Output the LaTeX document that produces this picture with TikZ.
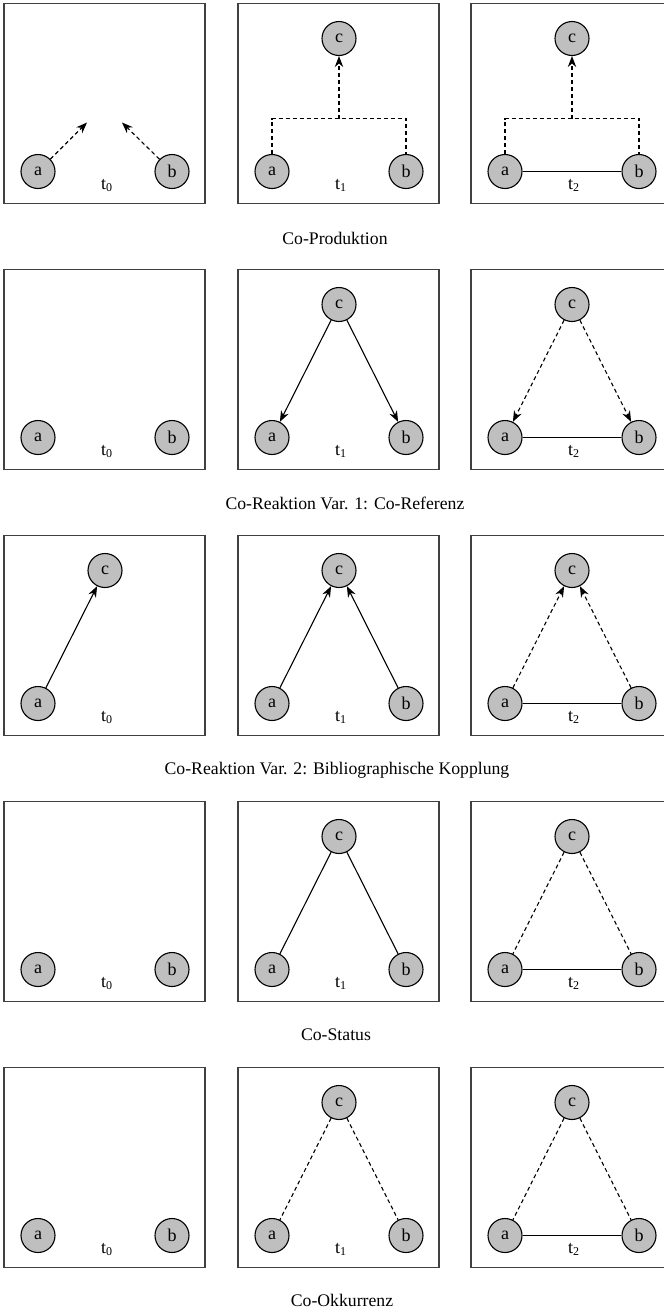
\documentclass[tikz,border=0pt]{standalone}
\usepackage{fontspec}
\setmainfont{Liberation Serif}
\usetikzlibrary{arrows.meta}

\begin{document}
\begin{tikzpicture}[x=0.5pt,y=-0.5pt,
    agent node/.style={circle,fill=black!25,draw,line width=0.55pt,minimum size=17pt,inner sep=0pt,font=\fontsize{9}{10}\selectfont},
    frame/.style={draw=black!75,line width=0.75pt},
    time label/.style={font=\fontsize{9}{10}\selectfont},
    caption/.style={font=\fontsize{8.85}{10}\selectfont},
    tie/.style={line width=0.55pt},
    hint/.style={line width=0.55pt,dash pattern=on 2pt off 1.5pt},
    arrowed/.style={-{Stealth[length=5.5pt,width=4.2pt]}}]
    \useasboundingbox (0,0) rectangle (664,1312);

    % Co-Produktion
    \begin{scope}[shift={(4,3.5)}]
        \draw[frame] (0,0) rectangle (201,200);
        \node[agent node] (a11) at (34,168) {a};
        \node[agent node] (b11) at (168,168) {b};
        \node[time label] (t11) at (103,182) {t\textsubscript{0}};
        \coordinate (p11) at (83,119);
        \coordinate (q11) at (118,119);
        \draw[hint,arrowed] (a11) -- (p11);
        \draw[hint,arrowed] (b11) -- (q11);
    \end{scope}
    \begin{scope}[shift={(238,3.5)}]
        \draw[frame] (0,0) rectangle (201,200);
        \node[agent node] (a12) at (34,168) {a};
        \node[agent node] (b12) at (168,168) {b};
        \node[agent node] (c12) at (101,35) {c};
        \node[time label] (t12) at (103,182) {t\textsubscript{1}};
        \coordinate (k12) at (101,115);
        \draw[hint] (a12.north) |- (k12) -| (b12.north);
        \draw[hint,arrowed] (k12) -- (c12);
    \end{scope}
    \begin{scope}[shift={(471,3.5)}]
        \draw[frame] (0,0) rectangle (201,200);
        \node[agent node] (a13) at (34,168) {a};
        \node[agent node] (b13) at (168,168) {b};
        \node[agent node] (c13) at (101,35) {c};
        \node[time label] (t13) at (103,182) {t\textsubscript{2}};
        \coordinate (k13) at (101,115);
        \draw[hint] (a13.north) |- (k13) -| (b13.north);
        \draw[hint,arrowed] (k13) -- (c13);
        \draw[tie] (a13) -- (b13);
    \end{scope}
    \node[caption] (cap1) at (335,238) {Co-Produktion};

    % Co-Referenz
    \begin{scope}[shift={(4,269.5)}]
        \draw[frame] (0,0) rectangle (201,200);
        \node[agent node] (a21) at (34,168) {a};
        \node[agent node] (b21) at (168,168) {b};
        \node[time label] (t21) at (103,182) {t\textsubscript{0}};
    \end{scope}
    \begin{scope}[shift={(238,269.5)}]
        \draw[frame] (0,0) rectangle (201,200);
        \node[agent node] (a22) at (34,168) {a};
        \node[agent node] (b22) at (168,168) {b};
        \node[agent node] (c22) at (101,35) {c};
        \node[time label] (t22) at (103,182) {t\textsubscript{1}};
        \draw[tie,arrowed] (c22) -- (a22);
        \draw[tie,arrowed] (c22) -- (b22);
    \end{scope}
    \begin{scope}[shift={(471,269.5)}]
        \draw[frame] (0,0) rectangle (201,200);
        \node[agent node] (a23) at (34,168) {a};
        \node[agent node] (b23) at (168,168) {b};
        \node[agent node] (c23) at (101,35) {c};
        \node[time label] (t23) at (103,182) {t\textsubscript{2}};
        \draw[hint,arrowed] (c23) -- (a23);
        \draw[hint,arrowed] (c23) -- (b23);
        \draw[tie] (a23) -- (b23);
    \end{scope}
    \node[caption] (cap2) at (345,503) {Co-Reaktion Var. 1: Co-Referenz};

    % Bibliographische Kopplung
    \begin{scope}[shift={(4,535.5)}]
        \draw[frame] (0,0) rectangle (201,200);
        \node[agent node] (a31) at (34,168) {a};
        \node[agent node] (c31) at (101,35) {c};
        \node[time label] (t31) at (103,182) {t\textsubscript{0}};
        \draw[tie,arrowed] (a31) -- (c31);
    \end{scope}
    \begin{scope}[shift={(238,535.5)}]
        \draw[frame] (0,0) rectangle (201,200);
        \node[agent node] (a32) at (34,168) {a};
        \node[agent node] (b32) at (168,168) {b};
        \node[agent node] (c32) at (101,35) {c};
        \node[time label] (t32) at (103,182) {t\textsubscript{1}};
        \draw[tie,arrowed] (a32) -- (c32);
        \draw[tie,arrowed] (b32) -- (c32);
    \end{scope}
    \begin{scope}[shift={(471,535.5)}]
        \draw[frame] (0,0) rectangle (201,200);
        \node[agent node] (a33) at (34,168) {a};
        \node[agent node] (b33) at (168,168) {b};
        \node[agent node] (c33) at (101,35) {c};
        \node[time label] (t33) at (103,182) {t\textsubscript{2}};
        \draw[hint,arrowed] (a33) -- (c33);
        \draw[hint,arrowed] (b33) -- (c33);
        \draw[tie] (a33) -- (b33);
    \end{scope}
    \node[caption] (cap3) at (337,770) {Co-Reaktion Var. 2: Bibliographische Kopplung};

    % Co-Status
    \begin{scope}[shift={(4,801.5)}]
        \draw[frame] (0,0) rectangle (201,200);
        \node[agent node] (a41) at (34,168) {a};
        \node[agent node] (b41) at (168,168) {b};
        \node[time label] (t41) at (103,182) {t\textsubscript{0}};
    \end{scope}
    \begin{scope}[shift={(238,801.5)}]
        \draw[frame] (0,0) rectangle (201,200);
        \node[agent node] (a42) at (34,168) {a};
        \node[agent node] (b42) at (168,168) {b};
        \node[agent node] (c42) at (101,35) {c};
        \node[time label] (t42) at (103,182) {t\textsubscript{1}};
        \draw[tie] (c42) -- (a42);
        \draw[tie] (c42) -- (b42);
    \end{scope}
    \begin{scope}[shift={(471,801.5)}]
        \draw[frame] (0,0) rectangle (201,200);
        \node[agent node] (a43) at (34,168) {a};
        \node[agent node] (b43) at (168,168) {b};
        \node[agent node] (c43) at (101,35) {c};
        \node[time label] (t43) at (103,182) {t\textsubscript{2}};
        \draw[hint] (c43) -- (a43);
        \draw[hint] (c43) -- (b43);
        \draw[tie] (a43) -- (b43);
    \end{scope}
    \node[caption] (cap4) at (336,1035) {Co-Status};

    % Co-Okkurrenz
    \begin{scope}[shift={(4,1067.5)}]
        \draw[frame] (0,0) rectangle (201,200);
        \node[agent node] (a51) at (34,168) {a};
        \node[agent node] (b51) at (168,168) {b};
        \node[time label] (t51) at (103,182) {t\textsubscript{0}};
    \end{scope}
    \begin{scope}[shift={(238,1067.5)}]
        \draw[frame] (0,0) rectangle (201,200);
        \node[agent node] (a52) at (34,168) {a};
        \node[agent node] (b52) at (168,168) {b};
        \node[agent node] (c52) at (101,35) {c};
        \node[time label] (t52) at (103,182) {t\textsubscript{1}};
        \draw[hint] (c52) -- (a52);
        \draw[hint] (c52) -- (b52);
    \end{scope}
    \begin{scope}[shift={(471,1067.5)}]
        \draw[frame] (0,0) rectangle (201,200);
        \node[agent node] (a53) at (34,168) {a};
        \node[agent node] (b53) at (168,168) {b};
        \node[agent node] (c53) at (101,35) {c};
        \node[time label] (t53) at (103,182) {t\textsubscript{2}};
        \draw[hint] (c53) -- (a53);
        \draw[hint] (c53) -- (b53);
        \draw[tie] (a53) -- (b53);
    \end{scope}
    \node[caption] (cap5) at (342,1300) {Co-Okkurrenz};
\end{tikzpicture}
\end{document}
